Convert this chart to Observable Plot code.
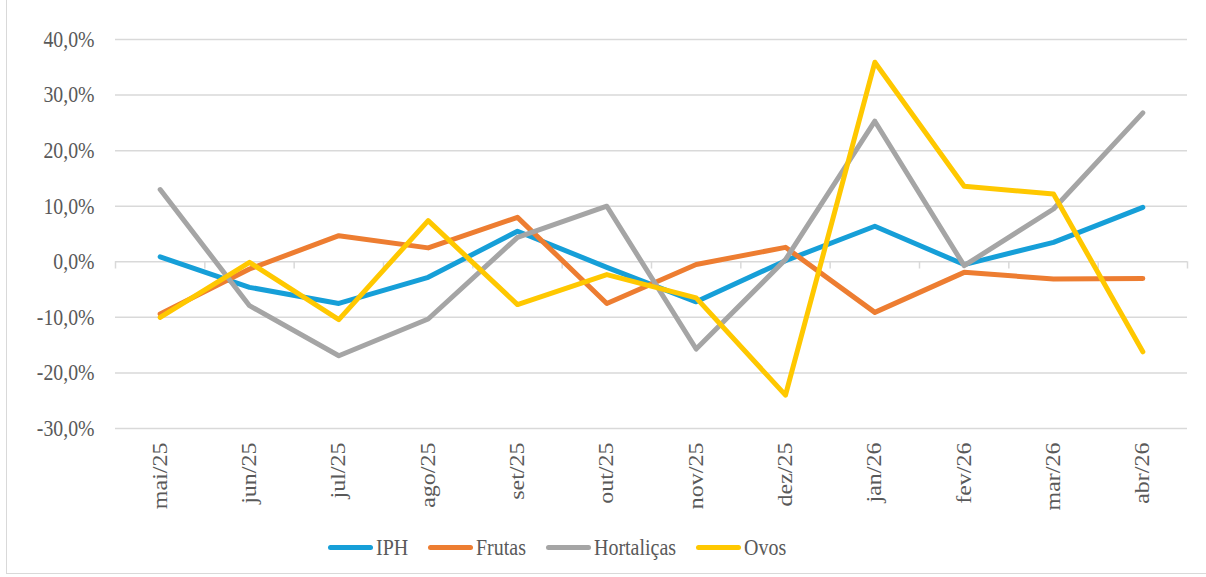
<!DOCTYPE html>
<html>
<head>
<meta charset="utf-8">
<script src="https://cdn.jsdelivr.net/npm/d3@7"></script>
<script src="https://cdn.jsdelivr.net/npm/@observablehq/plot@0.6"></script>
<style>
  html, body { margin: 0; padding: 0; background: #fff; font-family: 'Liberation Serif', serif; }
  #wrap { position: relative; width: 1206px; height: 577px; overflow: hidden; }
  #frame { position: absolute; left: 6px; top: -2px; width: 1210px; height: 576px; border: 1px solid #d9d9d9; box-sizing: border-box; pointer-events: none; }
  #chart { position: absolute; left: 0; top: 0; }
  #legend { position: absolute; top: 534px; left: 328px; display: flex; align-items: center; font-size: 23.5px; color: #595959; white-space: nowrap; font-family: 'Liberation Serif', serif; }
  .item { display: flex; align-items: center; margin-right: 20px; }
  .sw { width: 45px; height: 5px; border-radius: 3px; margin-right: 3px; flex: none; }
  .lt { display: inline-block; transform: scaleX(0.85); transform-origin: left center; }
</style>
</head>
<body>
<div id="wrap">
  <div id="frame"></div>
  <div id="chart"></div>
  <div id="legend"></div>
</div>
<script>
const months = ["mai/25","jun/25","jul/25","ago/25","set/25","out/25","nov/25","dez/25","jan/26","fev/26","mar/26","abr/26"];
const iph        = [0.9, -4.6, -7.5, -2.8, 5.5, -1.0, -7.2, 0.2, 6.4, -0.5, 3.5, 9.8];
const frutas     = [-9.4, -1.3, 4.7, 2.5, 8.0, -7.5, -0.5, 2.6, -9.1, -1.9, -3.1, -3.0];
const hortalicas = [13.0, -7.9, -16.9, -10.3, 4.4, 10.0, -15.7, 0.4, 25.3, -0.7, 9.5, 26.8];
const ovos       = [-10.0, -0.1, -10.4, 7.4, -7.7, -2.3, -6.5, -24.0, 35.9, 13.6, 12.2, -16.2];
const seriesNames = ["IPH", "Frutas", "Hortaliças", "Ovos"];
const seriesColors = ["#169fd8", "#ed7d31", "#a5a5a5", "#ffc800"];
const yTicks = [-30, -20, -10, 0, 10, 20, 30, 40];

const allSeries = [iph, frutas, hortalicas, ovos];
const data = [];
allSeries.forEach((vals, s) => vals.forEach((v, i) => data.push({i, v, s: seriesNames[s]})));
const idx = d3.range(months.length);
const bounds = d3.range(months.length + 1).map(k => k - 0.5);
const fmt = d => d.toFixed(1).replace(".", ",") + "%";

const chart = Plot.plot({
  width: 1206,
  height: 525,
  marginLeft: 115,
  marginRight: 19,
  marginTop: 39,
  marginBottom: 97,
  style: { fontFamily: "'Liberation Serif', serif", color: "#595959", background: "transparent", overflow: "visible" },
  x: { type: "linear", domain: [-0.5, months.length - 0.5], label: null },
  y: { domain: [-30, 40], label: null },
  color: { domain: seriesNames, range: seriesColors },
  marks: [
    Plot.ruleY(yTicks, { stroke: "#d9d9d9", strokeWidth: 1.5 }),
    Plot.ruleX(bounds, { y1: 0, y2: -1.3, stroke: "#d9d9d9", strokeWidth: 1.5 }),
    Plot.axisY({ ticks: yTicks, tickSize: 0, tickPadding: 21, tickFormat: fmt, fontSize: 23, label: null }),
    Plot.axisX({ ticks: idx, tickSize: 0, tickPadding: 14, tickRotate: -90, tickFormat: i => months[i], fontSize: 24, label: null }),
    Plot.line(data, { x: "i", y: "v", z: "s", stroke: "s", strokeWidth: 5, strokeLinecap: "round", strokeLinejoin: "round" })
  ]
});
document.getElementById("chart").appendChild(chart);

// condense glyphs horizontally, as in the reference rendering
function condense(sel, sc) {
  chart.querySelectorAll(sel).forEach(t => {
    let tr = t.getAttribute("transform");
    if (!tr) {
      const x = t.getAttribute("x") || 0, y = t.getAttribute("y") || 0;
      t.removeAttribute("x"); t.removeAttribute("y");
      tr = `translate(${x},${y})`;
    }
    t.setAttribute("transform", tr + " " + sc);
  });
}
condense("g[aria-label='y-axis tick label'] text", "scale(0.86,1)");
condense("g[aria-label='x-axis tick label'] text", "scale(1,0.85)");

const legend = document.getElementById("legend");
seriesNames.forEach((name, k) => {
  const item = document.createElement("div");
  item.className = "item";
  const sw = document.createElement("span");
  sw.className = "sw";
  sw.style.background = seriesColors[k];
  const t = document.createElement("span");
  t.className = "lt";
  t.textContent = name;
  item.appendChild(sw);
  item.appendChild(t);
  legend.appendChild(item);
  const w = t.offsetWidth;
  t.style.marginRight = (-w * 0.15) + "px";
});
</script>
</body>
</html>
